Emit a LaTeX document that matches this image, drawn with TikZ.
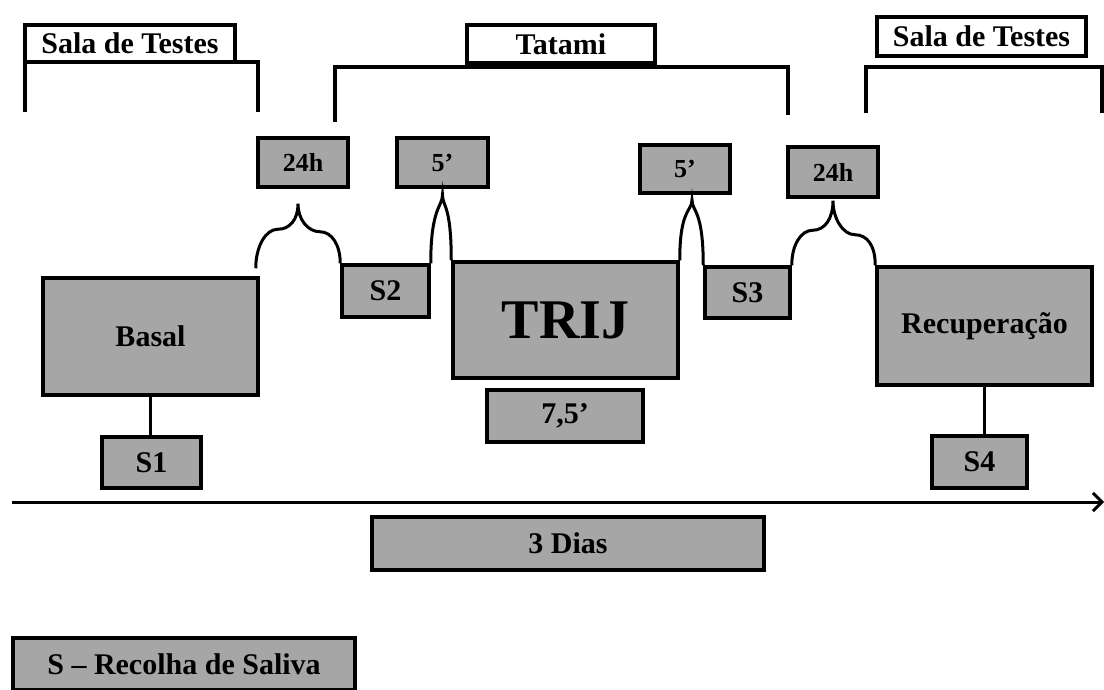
\documentclass[tikz,border=0pt]{standalone}
\usepackage{fontspec}
\setmainfont{Liberation Serif}
\usetikzlibrary{arrows.meta,calc,positioning}
\definecolor{boxgray}{HTML}{A6A6A6}
\newcommand{\lblfont}{\fontsize{30}{34}\selectfont\bfseries}
\newcommand{\timefont}{\fontsize{26}{30}\selectfont\bfseries}

\begin{document}
\begin{tikzpicture}[x=1pt,y=-1pt,
  every node/.style={font=\lblfont},
  stage/.style={draw,line width=3.5pt,fill=boxgray,inner sep=0pt,align=center},
  timebox/.style={stage,font=\timefont},
  place/.style={draw,line width=3.5pt,fill=white,inner sep=0pt},
  bracket/.style={line width=4pt},
  brc/.style={line width=3pt},
  link/.style={line width=3.5pt},
  axis/.style={line width=3pt,-{Straight Barb[length=9pt,width=18pt]}}
]
\useasboundingbox (0,0) rectangle (1104,689);

% rooms
\draw[bracket] (25,112) |- (258,62) -- (258,112);
\draw[bracket] (335,122) |- (788,67) -- (788,115);
\draw[bracket] (866,113) |- (1102,67) -- (1102,113);
\node[place,minimum width=210pt,minimum height=37pt] (salaL) at (130,43.5) {Sala de Testes};
\node[place,minimum width=188pt,minimum height=38pt] (tatami) at (561,44) {Tatami};
\node[place,minimum width=209pt,minimum height=39pt] (salaR) at (981.5,36.5) {Sala de Testes};

% intervals
\node[timebox,minimum width=90pt,minimum height=49pt] (t24a) at (303,162.5) {24h};
\node[timebox,minimum width=91pt,minimum height=49pt] (t5a) at (442.5,162.5) {5’};
\node[timebox,minimum width=90pt,minimum height=48pt] (t5b) at (685,169) {5’};
\node[timebox,minimum width=90pt,minimum height=50pt] (t24b) at (833,172) {24h};

% stages
\node[stage,minimum width=215pt,minimum height=117pt] (basal) at (150.5,336.5) {Basal};
\node[stage,minimum width=99pt,minimum height=51pt] (s1) at (151.5,462.5) {S1};
\node[stage,minimum width=87pt,minimum height=52pt] (s2) at (385.5,291) {S2};
\node[stage,minimum width=225pt,minimum height=116pt,font=\fontsize{56}{62}\selectfont\bfseries] (trij) at (565.5,320) {TRIJ};
\node[stage,minimum width=156pt,minimum height=52pt] (t75) at (565,416) {7,5’};
\node[stage,minimum width=85pt,minimum height=51pt] (s3) at (747.5,292.5) {S3};
\node[stage,minimum width=215pt,minimum height=118pt] (recup) at (984.5,326) {Recuperação};
\node[stage,minimum width=95pt,minimum height=52pt] (s4) at (979.5,462) {S4};
\draw[link] (basal.south) -- (basal.south |- s1.north);
\draw[link] (recup.south) -- (recup.south |- s4.north);

% braces
\coordinate (b1l) at ($(basal.north east)+(-4,-8)$);
\coordinate (b1t) at ($(t24a.south)+(-5,15)$);
\coordinate (b2t) at ($(t5a.south)+(0,6)$);
\coordinate (b3t) at ($(t5b.south)+(7,5)$);
\coordinate (b4t) at ($(t24b.south)+(0,2)$);
\draw[brc] (b1l) .. controls +(0,-22) and +(-12,0) .. ++(22,-39)
  .. controls +(12,0) and +(0,16) .. (b1t)
  .. controls +(0,16) and +(-12,0) .. ++(22,28)
  .. controls +(12,0) and +(0,-18) .. (s2.north west);
\draw[brc] (s2.north east) .. controls +(0,-56) and +(0,12) .. (b2t)
  .. controls +(0,12) and +(0,-56) .. (trij.north west);
\draw[brc] (trij.north east) .. controls +(0,-52) and +(0,12) .. (b3t)
  .. controls +(0,12) and +(0,-56) .. (s3.north west);
\draw[brc] (s3.north east) .. controls +(0,-20) and +(-12,0) .. ++(21,-35)
  .. controls +(12,0) and +(0,18) .. (b4t)
  .. controls +(0,18) and +(-12,0) .. ++(22,34)
  .. controls +(12,0) and +(0,-20) .. (recup.north west);

% time line
\coordinate (axstart) at (12,502);
\coordinate (axend) at (1104,502);
\draw[axis] (axstart) -- (axend);
\node[stage,minimum width=392pt,minimum height=53pt] (dias) at (568,543.5) {3 Dias};
\node[stage,minimum width=342pt,minimum height=52pt] (legend) at (184,664) {S – Recolha de Saliva};
\end{tikzpicture}
\end{document}
